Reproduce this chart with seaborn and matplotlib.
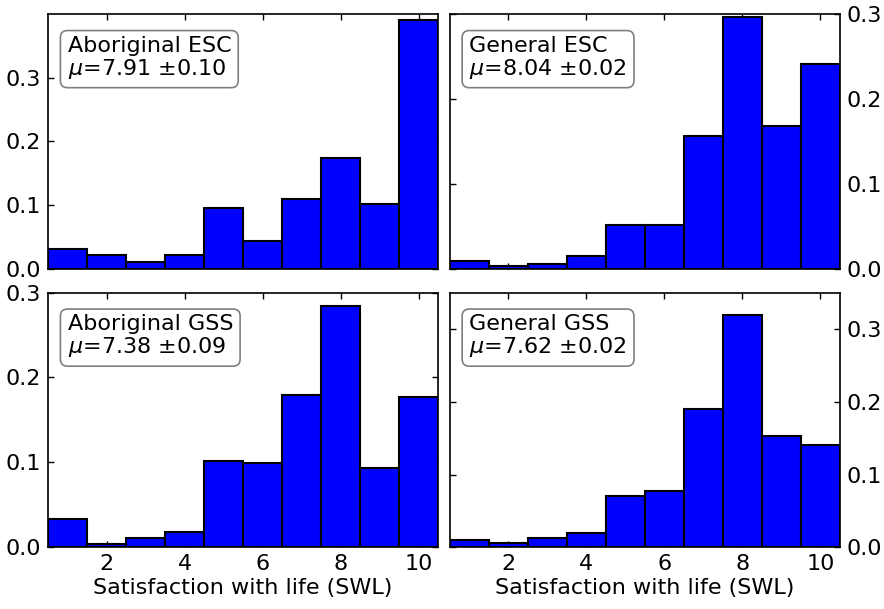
import numpy as np
import pandas as pd
import matplotlib
matplotlib.use('Agg')
import matplotlib.pyplot as plt
import seaborn as sns

# SWL score (1..10) and normalized frequency per group
swl = [1, 2, 3, 4, 5, 6, 7, 8, 9, 10]
aboriginal_esc = [0.031, 0.0215, 0.010, 0.0215, 0.095, 0.0435, 0.109, 0.174, 0.101, 0.391]
general_esc = [0.0087, 0.0035, 0.0059, 0.0153, 0.052, 0.0512, 0.1567, 0.2968, 0.1677, 0.2417]
aboriginal_gss = [0.0337, 0.0035, 0.0106, 0.018, 0.1016, 0.0988, 0.1788, 0.2843, 0.0933, 0.1769]
general_gss = [0.0096, 0.0055, 0.0123, 0.0201, 0.0708, 0.0767, 0.1904, 0.3196, 0.1525, 0.1406]

titles = ['Aboriginal ESC', 'General ESC', 'Aboriginal GSS', 'General GSS']
means = [7.91, 8.04, 7.38, 7.62]
errors = [0.10, 0.02, 0.09, 0.02]
ymax = [0.4, 0.3, 0.3, 0.35]

sns.set_style('white')
plt.rcParams['font.family'] = ['DejaVu Sans']
plt.rcParams['font.size'] = 16
plt.rcParams['text.color'] = 'black'
plt.rcParams['mathtext.fontset'] = 'dejavusans'

fig, axes = plt.subplots(2, 2, figsize=(8.84, 6.09), dpi=100)
fig.subplots_adjust(left=0.0543, right=0.950, top=0.977, bottom=0.1013,
                    wspace=0.03, hspace=0.093)

groups = [aboriginal_esc, general_esc, aboriginal_gss, general_gss]

for i, ax in enumerate(axes.flat):
    df = pd.DataFrame({'swl': swl, 'freq': groups[i]})
    sns.histplot(data=df, x='swl', weights='freq', discrete=True, color='blue', alpha=1,
                 edgecolor='black', linewidth=1.5, ax=ax)
    ax.set_xlim(0.5, 10.5)
    ax.set_ylim(0, ymax[i])
    ax.set_xticks([2, 4, 6, 8, 10])
    ax.set_yticks([0.0, 0.1, 0.2, 0.3])
    ax.set_yticklabels(['0.0', '0.1', '0.2', '0.3'])
    ax.set_ylabel('')
    for s in ax.spines.values():
        s.set_color('black')
        s.set_linewidth(1.2)
    ax.tick_params(direction='in', length=4.5, width=1, top=True, bottom=True,
                   left=True, right=True, labelsize=16, colors='black', pad=5)
    row, col = divmod(i, 2)
    if row == 0:
        ax.set_xlabel('')
        ax.tick_params(labelbottom=False)
    else:
        ax.set_xlabel('Satisfaction with life (SWL)', fontsize=16, color='black',
                      labelpad=3)
    if col == 1:
        ax.tick_params(labelleft=False, labelright=True)
    ax.text(0.05, 0.915, f'{titles[i]}\n$\\mu$={means[i]:.2f} $\\pm${errors[i]:.2f}',
            transform=ax.transAxes, ha='left', va='top', fontsize=16, color='black',
            linespacing=1.05,
            bbox=dict(boxstyle='round,pad=0.32', fc='white', ec='gray', lw=1.2))

fig.savefig('out.png', dpi=100, facecolor='white')
